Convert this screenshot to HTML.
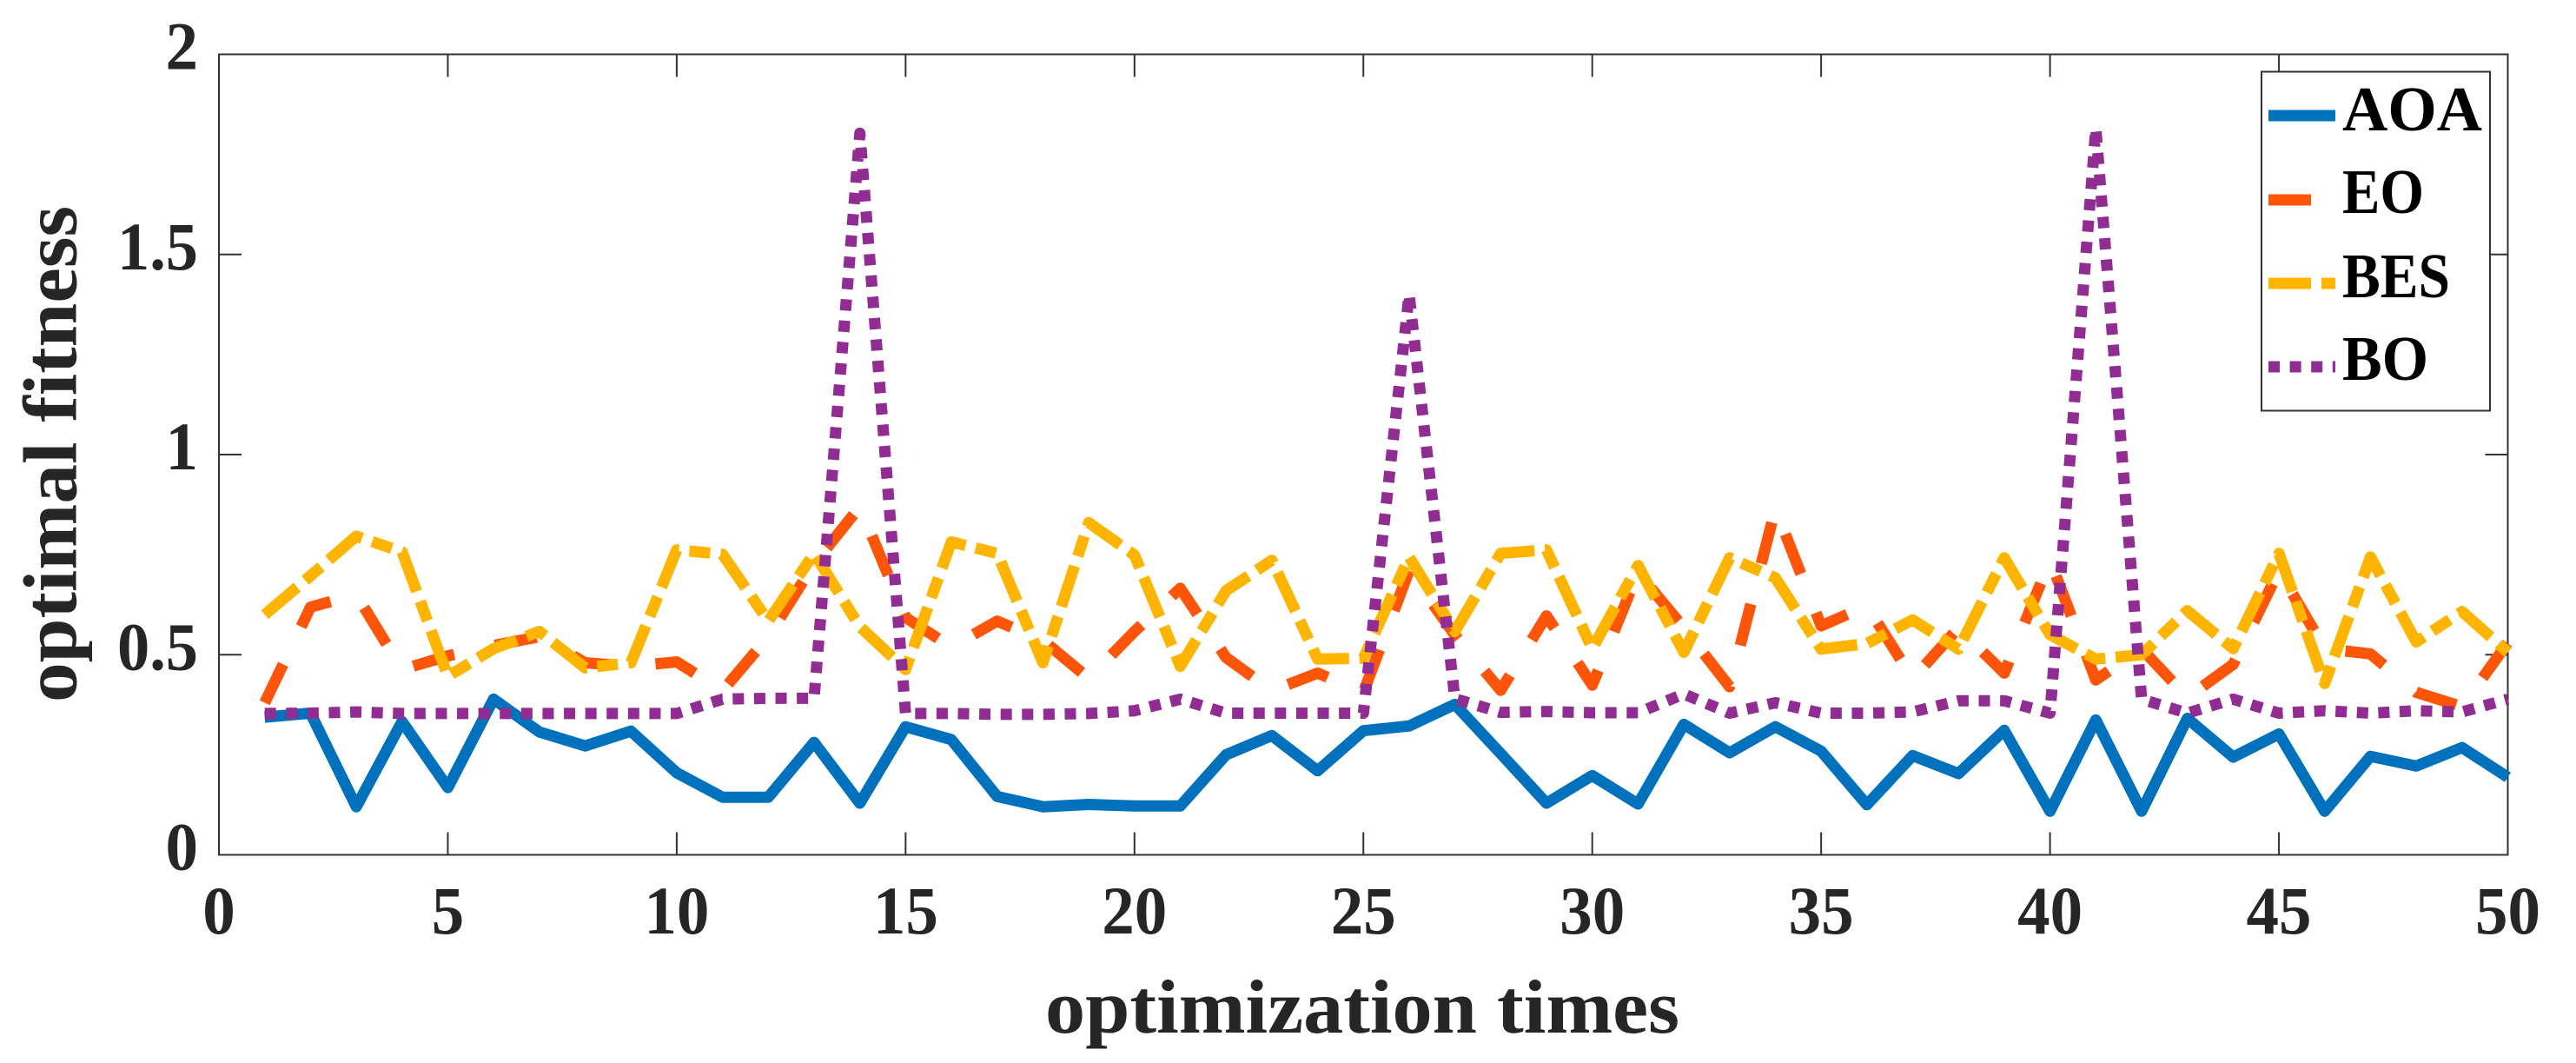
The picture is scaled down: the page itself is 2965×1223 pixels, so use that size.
<!DOCTYPE html>
<html lang="en">
<head>
<meta charset="utf-8">
<title>Optimal fitness over optimization times</title>
<style>
html,body{margin:0;padding:0;background:#fff;width:2965px;height:1223px;overflow:hidden}
svg{display:block}
text{font-family:"Liberation Serif",serif;font-weight:bold}
</style>
</head>
<body>
<svg id="chart" width="2965" height="1223" viewBox="0 0 2965 1223" xmlns="http://www.w3.org/2000/svg">
  <rect x="0" y="0" width="2965" height="1223" fill="#ffffff"/>
  <g id="ticks"></g>
  <rect x="252" y="62.5" width="2634.5" height="921" fill="none" stroke="#333333" stroke-width="2"/>
  <g id="series"></g>
  <g id="labels"></g>
  <text x="1568" y="1188" text-anchor="middle" font-size="88" fill="#262626" textLength="730" lengthAdjust="spacingAndGlyphs">optimization times</text>
  <text transform="translate(87.5 522.5) rotate(-90)" x="0" y="0" text-anchor="middle" font-size="88" fill="#262626" textLength="571" lengthAdjust="spacingAndGlyphs">optimal fitness</text>
  <g>
    <rect x="2603" y="82.5" width="263" height="390" fill="#ffffff" stroke="#333333" stroke-width="2"/>
    <line x1="2611" x2="2688" y1="133" y2="133" stroke="#0072BD" stroke-width="13"/>
    <text x="2696" y="150" font-size="73" fill="#000" textLength="161" lengthAdjust="spacingAndGlyphs">AOA</text>
    <line x1="2611" x2="2688" y1="230" y2="230" stroke="#FF5508" stroke-width="13" stroke-dasharray="49 48"/>
    <text x="2696" y="245" font-size="73" fill="#000" textLength="94" lengthAdjust="spacingAndGlyphs">EO</text>
    <line x1="2611" x2="2688" y1="326" y2="326" stroke="#FFB400" stroke-width="13" stroke-dasharray="49 12 24 12"/>
    <text x="2696" y="342" font-size="73" fill="#000" textLength="124" lengthAdjust="spacingAndGlyphs">BES</text>
    <line x1="2611" x2="2688" y1="422" y2="422" stroke="#912C92" stroke-width="13" stroke-dasharray="13 11.6"/>
    <text x="2696" y="437" font-size="73" fill="#000" textLength="99" lengthAdjust="spacingAndGlyphs">BO</text>
  </g>
</svg>
<script>
var xTicks = [0, 5, 10, 15, 20, 25, 30, 35, 40, 45, 50];
var yTicks = [0, 0.5, 1, 1.5, 2];
var yTickLabels = ['0', '0.5', '1', '1.5', '2'];
var iterations = [1,2,3,4,5,6,7,8,9,10,11,12,13,14,15,16,17,18,19,20,21,22,23,24,25,26,27,28,29,30,31,32,33,34,35,36,37,38,39,40,41,42,43,44,45,46,47,48,49,50];
var aoaValues = [0.344,0.354,0.12,0.333,0.168,0.389,0.307,0.272,0.309,0.205,0.144,0.144,0.281,0.129,0.32,0.288,0.146,0.12,0.126,0.122,0.122,0.25,0.298,0.21,0.31,0.322,0.376,0.253,0.129,0.198,0.127,0.326,0.255,0.32,0.259,0.125,0.248,0.203,0.311,0.109,0.337,0.109,0.341,0.244,0.302,0.109,0.246,0.222,0.268,0.194];
var eoValues = [0.38,0.619,0.65,0.463,0.497,0.523,0.545,0.48,0.471,0.482,0.41,0.545,0.727,0.87,0.593,0.519,0.584,0.536,0.441,0.558,0.666,0.493,0.41,0.454,0.406,0.71,0.549,0.411,0.597,0.424,0.705,0.567,0.42,0.865,0.572,0.622,0.44,0.567,0.454,0.736,0.437,0.515,0.393,0.476,0.71,0.515,0.502,0.406,0.37,0.53];
var besValues = [0.6,0.697,0.796,0.757,0.446,0.515,0.558,0.467,0.48,0.762,0.751,0.584,0.753,0.57,0.463,0.782,0.753,0.48,0.83,0.749,0.471,0.66,0.736,0.489,0.491,0.744,0.558,0.753,0.762,0.515,0.723,0.506,0.742,0.692,0.514,0.528,0.587,0.514,0.742,0.55,0.489,0.5,0.61,0.515,0.753,0.428,0.744,0.532,0.608,0.506];
var boValues = [0.353,0.354,0.357,0.353,0.353,0.353,0.353,0.353,0.353,0.353,0.389,0.391,0.391,1.803,0.353,0.353,0.351,0.351,0.353,0.36,0.389,0.354,0.354,0.354,0.354,1.4,0.39,0.356,0.358,0.355,0.355,0.402,0.354,0.38,0.354,0.354,0.357,0.385,0.385,0.354,1.815,0.389,0.354,0.389,0.354,0.36,0.354,0.36,0.357,0.389];

var SVG_NS = 'http://www.w3.org/2000/svg';
var plotLeft = 252, plotRight = 2886.5, plotTop = 62.5, plotBottom = 983.5;
function xScale(v) { return plotLeft + (v - xTicks[0]) / (xTicks[xTicks.length - 1] - xTicks[0]) * (plotRight - plotLeft); }
function yScale(v) { return plotBottom - (v - yTicks[0]) / (yTicks[yTicks.length - 1] - yTicks[0]) * (plotBottom - plotTop); }
function labelWidth(s) { return s.length * 37.5 - (s.indexOf('.') >= 0 ? 19.5 : 0); }

var ticksGroup = document.getElementById('ticks');
var labelsGroup = document.getElementById('labels');
var seriesGroup = document.getElementById('series');

function tickMark(x1, y1, x2, y2) {
  var l = document.createElementNS(SVG_NS, 'line');
  l.setAttribute('x1', x1);
  l.setAttribute('y1', y1);
  l.setAttribute('x2', x2);
  l.setAttribute('y2', y2);
  l.setAttribute('stroke', '#333333');
  l.setAttribute('stroke-width', '2');
  
  
  ticksGroup.appendChild(l);
}
function tickLabel(x, y, anchor, str) {
  var t = document.createElementNS(SVG_NS, 'text');
  t.setAttribute('x', x);
  t.setAttribute('y', y);
  t.setAttribute('text-anchor', anchor);
  t.setAttribute('font-size', '78');
  t.setAttribute('fill', '#262626');
  t.setAttribute('textLength', labelWidth(str));
  t.setAttribute('lengthAdjust', 'spacingAndGlyphs');
  
  
  t.textContent = str;
  labelsGroup.appendChild(t);
}
xTicks.forEach(function (v) {
  var x = xScale(v);
  tickMark(x, plotBottom, x, plotBottom - 26);
  tickMark(x, plotTop, x, plotTop + 26);
  tickLabel(x, 1074, 'middle', String(v));
});
yTicks.forEach(function (v, i) {
  var y = yScale(v);
  tickMark(plotLeft, y, plotLeft + 26, y);
  tickMark(plotRight, y, plotRight - 26, y);
  tickLabel(228, y + 17, 'end', yTickLabels[i]);
});
function drawSeries(values, color, dash, name) {
  var pts = values.map(function (v, i) {
    return xScale(iterations[i]).toFixed(1) + ',' + yScale(v).toFixed(1);
  }).join(' ');
  var p = document.createElementNS(SVG_NS, 'polyline');
  p.setAttribute('points', pts);
  p.setAttribute('fill', 'none');
  p.setAttribute('stroke', color);
  p.setAttribute('stroke-width', '13');
  p.setAttribute('stroke-linejoin', 'round');
  if (dash) p.setAttribute('stroke-dasharray', dash);
  
  
  seriesGroup.appendChild(p);
}
drawSeries(aoaValues, '#0072BD', null, 'series-aoa');
drawSeries(eoValues, '#FF5508', '49 48', 'series-eo');
drawSeries(besValues, '#FFB400', '49 12 24 12', 'series-bes');
drawSeries(boValues, '#912C92', '13 11.6', 'series-bo');
</script>
</body>
</html>
